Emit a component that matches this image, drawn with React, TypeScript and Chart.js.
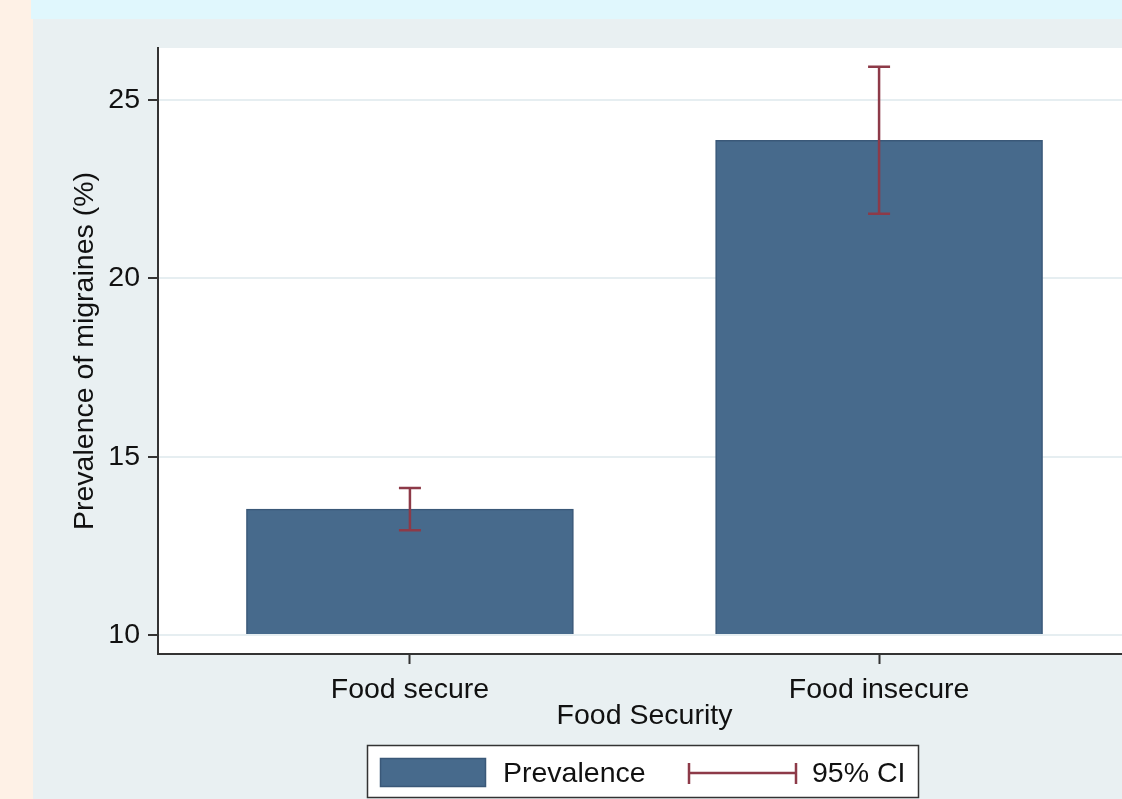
import React, { useEffect, useRef } from "react";
import { Chart, registerables } from "chart.js";

Chart.register(...registerables);

const categories = ["Food secure", "Food insecure"];
const prevalence = [13.53, 23.87];
const ciLower = [12.94, 21.81];
const ciUpper = [14.12, 25.93];
const yTicks = [10, 15, 20, 25];
const seriesLabel = "Prevalence";
const ciLabel = "95% CI";
const xTitle = "Food Security";
const yTitle = "Prevalence of migraines (%)";

const W = 1140;
const H = 799;
const FONT = "'Liberation Sans', Arial, sans-serif";
const FS = 28.5;
const BAR = "#476a8c";
const BAR_BORDER = "#3a5878";
const CI = "#8d3a48";
const AXIS = "#333333";
const GRID = "#e6eef1";

export default function App() {
  const ref = useRef<HTMLCanvasElement>(null);

  useEffect(() => {
    const canvas = ref.current;
    if (!canvas) return;

    const background = {
      id: "background",
      beforeDraw(chart: any) {
        const { ctx, chartArea } = chart;
        ctx.save();
        ctx.fillStyle = "#e9f0f2";
        ctx.fillRect(0, 0, W, H);
        ctx.fillStyle = "#fef1e6";
        ctx.fillRect(0, 0, 33, H);
        ctx.fillStyle = "#e0f7fd";
        ctx.fillRect(31, 0, W - 31, 19);
        ctx.fillStyle = "#ffffff";
        ctx.fillRect(chartArea.left, chartArea.top, chartArea.right - chartArea.left, chartArea.bottom - chartArea.top);
        ctx.restore();
      },
    };

    const errorBars = {
      id: "errorBars",
      afterDatasetsDraw(chart: any) {
        const { ctx, scales } = chart;
        ctx.save();
        ctx.strokeStyle = CI;
        ctx.lineWidth = 2.5;
        ctx.lineCap = "butt";
        for (let i = 0; i < categories.length; i++) {
          const x = scales.x.getPixelForValue(i);
          const yl = scales.y.getPixelForValue(ciLower[i]);
          const yu = scales.y.getPixelForValue(ciUpper[i]);
          ctx.beginPath();
          ctx.moveTo(x, yl);
          ctx.lineTo(x, yu);
          ctx.moveTo(x - 11, yl);
          ctx.lineTo(x + 11, yl);
          ctx.moveTo(x - 11, yu);
          ctx.lineTo(x + 11, yu);
          ctx.stroke();
        }
        ctx.restore();
      },
    };

    const legendBox = {
      id: "legendBox",
      afterDraw(chart: any) {
        const { ctx } = chart;
        ctx.save();
        ctx.fillStyle = "#ffffff";
        ctx.fillRect(367, 745, 552, 52);
        ctx.strokeStyle = AXIS;
        ctx.lineWidth = 1.5;
        ctx.strokeRect(367.5, 745.5, 551, 52);
        ctx.fillStyle = BAR;
        ctx.fillRect(380, 758, 106, 29);
        ctx.strokeStyle = BAR_BORDER;
        ctx.lineWidth = 1.5;
        ctx.strokeRect(380.5, 758.5, 105, 28);
        ctx.fillStyle = "#111111";
        ctx.font = `${FS}px ${FONT}`;
        ctx.textBaseline = "middle";
        ctx.textAlign = "left";
        ctx.fillText(seriesLabel, 503, 774);
        ctx.fillText(ciLabel, 812, 774);
        ctx.strokeStyle = CI;
        ctx.lineWidth = 2.5;
        ctx.beginPath();
        ctx.moveTo(688, 773);
        ctx.lineTo(797, 773);
        ctx.moveTo(689, 763);
        ctx.lineTo(689, 784);
        ctx.moveTo(796, 763);
        ctx.lineTo(796, 784);
        ctx.stroke();
        ctx.restore();
      },
    };

    const chart = new Chart(canvas, {
      type: "bar",
      data: {
        datasets: [
          {
            label: seriesLabel,
            data: prevalence.map((v, i) => ({ x: i, y: v })),
            base: 10,
            backgroundColor: BAR,
            borderColor: BAR_BORDER,
            borderWidth: 1.5,
            barThickness: 327,
          } as any,
        ],
      },
      plugins: [background, errorBars, legendBox],
      options: {
        responsive: false,
        animation: false,
        layout: { padding: { left: 68, top: 48, right: 9, bottom: 66 } },
        plugins: {
          legend: { display: false },
          tooltip: { enabled: false },
        },
        scales: {
          x: {
            type: "linear",
            offset: false,
            min: -0.537,
            max: 1.537,
            afterBuildTicks(scale: any) {
              scale.ticks = categories.map((_, i) => ({ value: i }));
            },
            afterFit(scale: any) {
              scale.height = 79;
            },
            ticks: {
              callback: (v: any) => categories[v as number] ?? "",
              color: "#111111",
              font: { family: FONT, size: FS },
              padding: 9,
              maxRotation: 0,
              autoSkip: false,
            },
            grid: {
              offset: false,
              drawOnChartArea: false,
              drawTicks: true,
              tickLength: 10,
              tickColor: AXIS,
              tickWidth: 2,
            },
            border: { display: true, color: AXIS, width: 2 },
            title: {
              display: true,
              text: xTitle,
              color: "#111111",
              font: { family: FONT, size: FS },
              padding: { top: 0, bottom: 0 },
            },
          },
          y: {
            type: "linear",
            min: 9.468,
            max: 26.455,
            afterBuildTicks(scale: any) {
              scale.ticks = yTicks.map((v) => ({ value: v }));
            },
            afterFit(scale: any) {
              scale.width = 90;
            },
            ticks: {
              color: "#111111",
              font: { family: FONT, size: FS },
              padding: 8,
            },
            grid: {
              color: GRID,
              lineWidth: 2,
              drawTicks: true,
              tickLength: 10,
              tickColor: AXIS,
              tickWidth: 2,
            },
            border: { display: true, color: AXIS, width: 2 },
            title: {
              display: true,
              text: yTitle,
              color: "#111111",
              font: { family: FONT, size: FS },
              padding: { top: 0, bottom: 0 },
            },
          },
        },
      } as any,
    });

    return () => chart.destroy();
  }, []);

  return (
    <div style={{ position: "fixed", left: 0, top: 0, width: 1122, height: 799, overflow: "hidden" }}>
      <canvas ref={ref} width={W} height={H} style={{ display: "block", width: W, height: H }} />
    </div>
  );
}
